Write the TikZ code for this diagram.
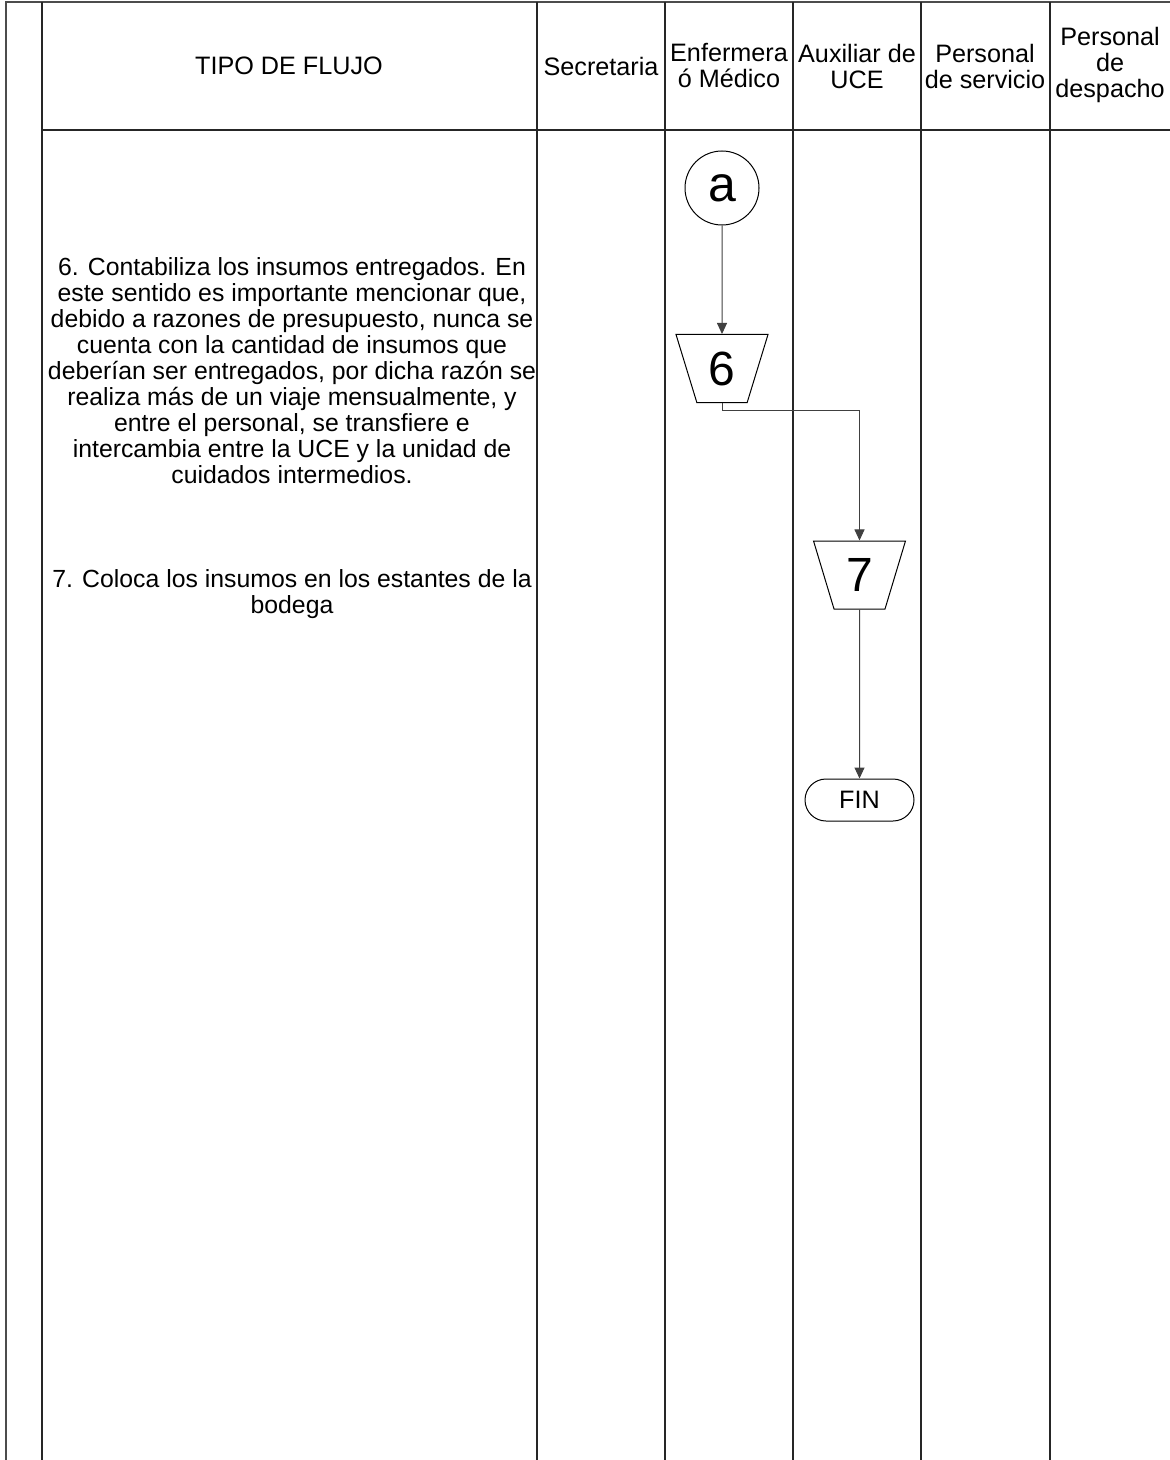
\documentclass[tikz,border=0pt]{standalone}
\usepackage{fontspec}
\setmainfont{Liberation Sans}
\usetikzlibrary{shapes.geometric,arrows.meta}

\begin{document}
\begin{tikzpicture}[x=0.5pt,y=-0.5pt,
  txt/.style={align=center, font=\fontsize{12.6}{13}\selectfont},
  desc/.style={align=center, font=\fontsize{12.4}{13}\selectfont},
  lane/.style={draw=black!85, line width=0.6pt},
  frame/.style={draw=black!70, line width=1.1pt},
  paso/.style={draw, trapezium, shape border rotate=180, trapezium stretches=true,
    trapezium left angle=72, trapezium right angle=72, minimum width=46pt,
    minimum height=34pt, inner sep=0pt, line width=0.5pt, font=\fontsize{24}{24}\selectfont},
  conector/.style={draw, circle, minimum size=37pt, inner sep=0pt, line width=0.5pt, font=\fontsize{25}{25}\selectfont},
  fin/.style={draw, rectangle, rounded corners=10.5pt, minimum width=54.5pt, minimum height=21pt, inner sep=0pt, line width=0.5pt, font=\fontsize{12.6}{13}\selectfont},
  flujo/.style={draw=black!75, line width=0.5pt, -{Triangle[width=5pt,length=5.5pt]}}]
\useasboundingbox (0,0) rectangle (1170,1460);

% marco y carriles
\draw[frame] (6,1460) -- (6,2) -- (1170,2);
\foreach \x in {42,537,665,793,921,1050}
  \draw[lane] (\x,2) -- (\x,1460);
\draw[lane] (42,130) -- (1170,130);

% encabezados
\node[txt] (hflujo) at (289,66) {TIPO DE FLUJO};
\node[txt] (hsec) at (601,66) {Secretaria};
\node[txt] (henf) at (729,66) {Enfermera\\ó Médico};
\node[txt] (haux) at (857,66) {Auxiliar de\\UCE};
\node[txt] (hserv) at (985,66) {Personal\\de servicio};
\node[txt] (hdesp) at (1110,65) {Personal\\de\\despacho};

% descripciones
\node[desc] (d6) at (292,371) {6. Contabiliza los insumos entregados. En\\
  este sentido es importante mencionar que,\\
  debido a razones de presupuesto, nunca se\\
  cuenta con la cantidad de insumos que\\
  deberían ser entregados, por dicha razón se\\
  realiza más de un viaje mensualmente, y\\
  entre el personal, se transfiere e\\
  intercambia entre la UCE y la unidad de\\
  cuidados intermedios.};
\node[desc] (d7) at (292,594) {7. Coloca los insumos en los estantes de la\\bodega};

% diagrama
\node[conector] (a) at (722,188) {a};
\node[paso] (p6) at (722,368.5) {6};
\node[paso] (p7) at (859.5,575) {7};
\node[fin] (f) at (859.5,800) {FIN};

\draw[flujo] (a) -- (p6);
\draw[flujo] (p6.south) -- ++(0,7) -| (p7.north);
\draw[flujo] (p7) -- (f);
\end{tikzpicture}
\end{document}
